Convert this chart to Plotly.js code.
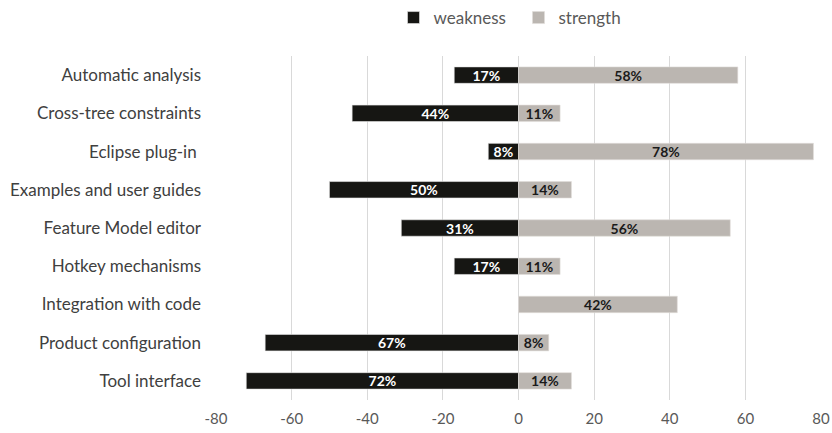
<!DOCTYPE html>
<html><head><meta charset="utf-8">
<script src="https://cdn.plot.ly/plotly-3.0.1.min.js"></script>
<style>html,body{margin:0;padding:0;background:#fff;}</style>
</head><body>
<div id="chart" style="width:832px;height:433px;"></div>
<script>
const categories = ["Automatic analysis","Cross-tree constraints","Eclipse plug-in ","Examples and user guides","Feature Model editor","Hotkey mechanisms","Integration with code","Product configuration","Tool interface"];
const weakness = [17,44,8,50,31,17,null,67,72];
const strength = [58,11,78,14,56,11,42,8,14];
const xTicks = [-80,-60,-40,-20,0,20,40,60,80];

const font = "Lato, 'Open Sans', sans-serif";
const traces = [
  {type:'bar', orientation:'h', name:'weakness', y:categories,
   x:weakness.map(v=>v==null?null:-v),
   text:weakness.map(v=>v==null?'':v+'%'), textposition:'inside', insidetextanchor:'middle',
   textfont:{color:'#ffffff', size:14, family:font, weight:'bold'},
   marker:{color:'#161613', line:{color:'#e8e8e8', width:0.6}}, width:0.43, hoverinfo:'skip', cliponaxis:false},
  {type:'bar', orientation:'h', name:'strength', y:categories, x:strength,
   text:strength.map(v=>v+'%'), textposition:'inside', insidetextanchor:'middle',
   textfont:{color:'#1a1a1a', size:14, family:font, weight:'bold'},
   marker:{color:'#bbb6b1', line:{color:'#e0ddda', width:0.6}}, width:0.43, hoverinfo:'skip', cliponaxis:false}
];
const layout = {
  width:832, height:433, barmode:'relative',
  margin:{l:216, r:11, t:56, b:33},
  paper_bgcolor:'#fff', plot_bgcolor:'#fff',
  font:{family:font, color:'#404040', size:15},
  showlegend:true,
  legend:{orientation:'h', x:0.5, xanchor:'center', y:1.0, yanchor:'top', yref:'container',
          font:{size:17, color:'#595959', family:font}, traceorder:'normal',
          entrywidth:80, entrywidthmode:'pixels', itemwidth:30},
  xaxis:{range:[-80,80], tickvals:xTicks, ticktext:xTicks.map(String), showgrid:true, gridcolor:'#d9d9d9', gridwidth:1,
         zeroline:false, showline:false, ticks:'', ticklabelstandoff:8, tickfont:{size:15, color:'#595959'}, fixedrange:true},
  yaxis:{categoryorder:'array', categoryarray:categories, autorange:'reversed', showgrid:false, zeroline:false,
         ticks:'', ticklabelstandoff:14, tickfont:{size:17, color:'#404040'}, fixedrange:true},
  uniformtext:{mode:'show', minsize:14}
};
Plotly.newPlot('chart', traces, layout, {displayModeBar:false, staticPlot:true});
</script>
</body></html>
